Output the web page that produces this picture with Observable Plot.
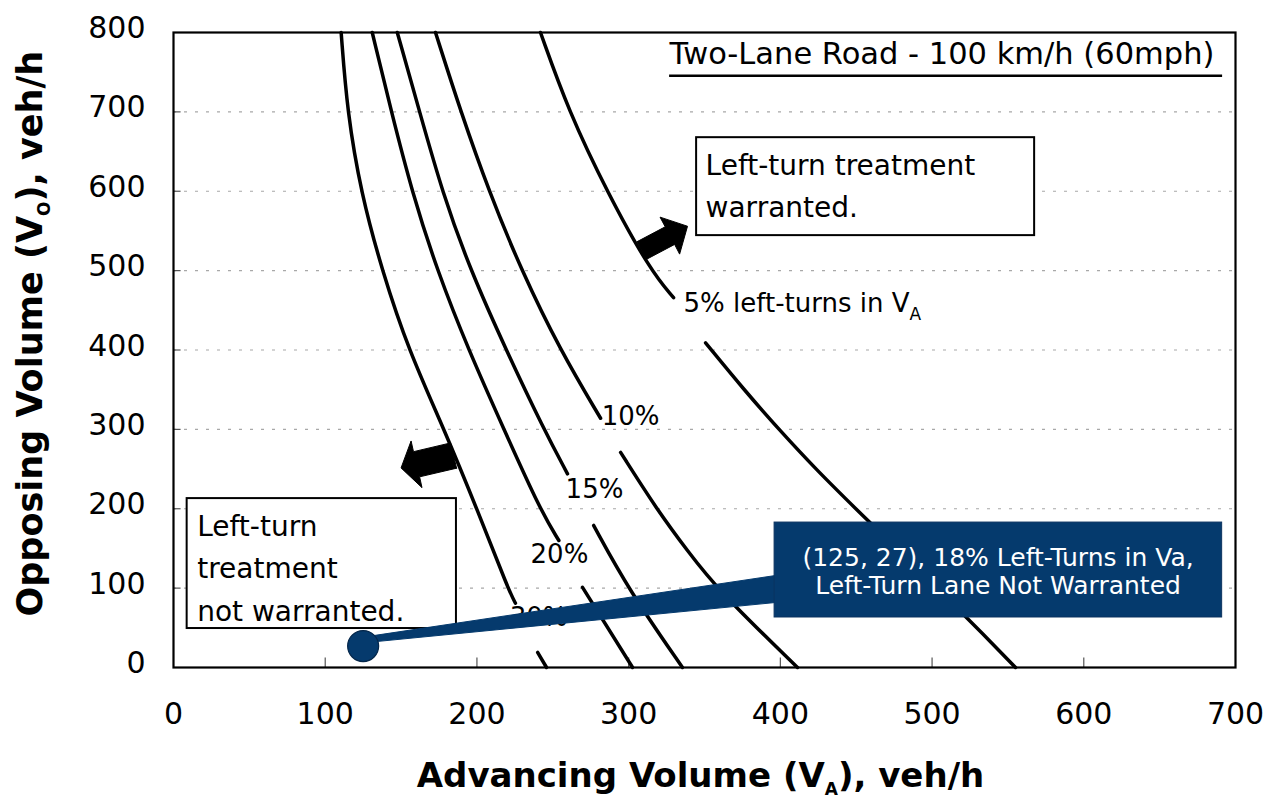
<!DOCTYPE html>
<html>
<head>
<meta charset="utf-8">
<script src="https://cdn.jsdelivr.net/npm/d3@7"></script>
<script src="https://cdn.jsdelivr.net/npm/@observablehq/plot@0.6"></script>
<style>
  body { margin: 0; background: #fff; }
  #chart { width: 1270px; height: 808px; }
</style>
</head>
<body>
<div id="chart"></div>
<script>
// ---- tick / grid values ----
const xTicks = [0, 100, 200, 300, 400, 500, 600, 700];
const yTicks = [0, 100, 200, 300, 400, 500, 600, 700, 800];
const gridLevels = [100, 200, 300, 400, 500, 600, 700];

// ---- curves (Advancing volume, Opposing volume); segments broken where labels sit ----
const curve5 = [
  [[241.9, 800], [260.4, 701], [286.1, 598], [314.4, 500], [329.6, 466]],
  [[350.7, 409], [376.0, 350], [399.0, 300], [424.3, 248], [450.7, 198], [523.2, 63], [555.0, 0]]
];
const curve10 = [
  [[172.7, 800], [189.2, 701], [208.3, 598], [229.4, 500], [255.1, 399], [281.5, 314]],
  [[294.7, 271], [319.0, 198], [338.8, 147], [358.6, 98], [411.3, 0]]
];
const curve15 = [
  [[147.5, 800], [162.1, 701], [177.3, 598], [195.8, 500], [219.5, 399], [243.9, 301], [259.7, 244]],
  [[276.9, 179], [300.0, 98], [335.5, 0]]
];
const curve20 = [
  [[131.0, 800], [143.5, 701], [157.4, 598], [173.8, 500], [194.7, 399], [217.6, 301], [241.9, 198], [254.0, 160]],
  [[269.6, 101], [302.6, 0]]
];
const curve30 = [
  [[110.5, 800], [114.5, 700], [123.7, 597], [137.5, 500], [155.1, 399], [178.2, 301], [200.4, 198], [220.8, 98], [225.4, 81]],
  [[240.0, 19], [245.9, 0]]
];
const curveNames = ["5%", "10%", "15%", "20%", "30%"];
const curveSets = [curve5, curve10, curve15, curve20, curve30];

// ---- curve labels ----
const pctLabels = ["10%", "15%", "20%", "30%"];
const pctLabelX = [301.3, 277.5, 254.4, 240.6];
const pctLabelY = [316, 224, 142, 63];
const fivePctLabel = "5% left-turns in V_A";
const fivePctPos = [336.2, 458];

// ---- annotation boxes ----
const warrantedText = "Left-turn treatment\nwarranted.";
const warrantedBox = [344.8, 567.6, 544.1, 667.5];   // x1, x2, y1, y2
const warrantedTextPos = [350.7, 658.5];
const notWarrantedText = "Left-turn\ntreatment\nnot warranted.";
const notWarrantedBox = [9.0, 186.5, 49.1, 212.8];
const notWarrantedTextPos = [15.6, 204];

// ---- title ----
const titleText = "Two-Lane Road - 100 km/h (60mph)";
const titlePos = [327, 773];
const titleUnderline = [327, 691.5, 745.6];           // x1, x2, y

// ---- block arrows (polygons) ----
const arrowRight = [[311.6, 514.1], [330.3, 533.0], [333.6, 520.8], [338.8, 555.9], [320.7, 567.4], [324.1, 555.2], [305.4, 536.3], [311.6, 514.1]];
const arrowLeft = [[186.6, 251.1], [162.2, 240.2], [163.8, 226.6], [150.0, 251.4], [156.6, 285.4], [158.2, 271.9], [182.6, 282.9], [186.6, 251.1]];

// ---- callout ----
const calloutPoint = [125, 27];
const calloutBox = [396.2, 691.2, 63, 182.6];
const calloutWedge = [[125.2, 38.3], [396.8, 115.9], [396.8, 81.9], [125.2, 31.1], [125.2, 38.3]];
const calloutText = "(125, 27), 18% Left-Turns in Va,\nLeft-Turn Lane Not Warranted";
const calloutTextPos = [543.5, 122];

// ---- axis labels ----
const xLabel = "Advancing Volume (V_A), veh/h";
const yLabel = "Opposing Volume (V_O), veh/h";
const yLabelPos = [-94.3, 420.6];

const navy = "#053a6d";

// build line table
const curveRows = [];
curveSets.forEach((segs, ci) => {
  segs.forEach((seg, si) => {
    seg.forEach(([x, y]) => curveRows.push({x, y, id: curveNames[ci] + "-" + si}));
  });
});
const pctRows = pctLabels.map((t, i) => ({text: t, x: pctLabelX[i], y: pctLabelY[i]}));
const toPts = a => a.map(([x, y]) => ({x, y}));

const chart = Plot.plot({
  width: 1270,
  height: 808,
  marginLeft: 173,
  marginRight: 35,
  marginTop: 32,
  marginBottom: 141,
  style: {fontFamily: "DejaVu Sans", fontSize: "28px", color: "black", background: "white"},
  x: {domain: [0, 700]},
  y: {domain: [0, 800]},
  marks: [
    Plot.ruleY(gridLevels, {stroke: "#a8a8a8", strokeDasharray: "3,8", strokeWidth: 1.2}),
    Plot.ruleX(xTicks.slice(1, -1), {y1: 0, y2: 12, stroke: "#555", strokeWidth: 1.2}),
    Plot.ruleY(gridLevels, {x1: 0, x2: 5, stroke: "#555", strokeWidth: 1.2}),
    Plot.frame({stroke: "black", strokeWidth: 2.2}),
    Plot.line(curveRows, {x: "x", y: "y", z: "id", stroke: "black", strokeWidth: 3.5, curve: "basis"}),
    Plot.text(pctRows, {x: "x", y: "y", text: "text", fontSize: 26}),
    Plot.text([fivePctLabel], {x: () => fivePctPos[0], y: () => fivePctPos[1], text: d => d, textAnchor: "start", fontSize: 26}),
    // boxes
    Plot.rect([warrantedBox], {x1: d => d[0], x2: d => d[1], y1: d => d[2], y2: d => d[3], fill: "white", stroke: "black", strokeWidth: 2}),
    Plot.text([warrantedText], {x: () => warrantedTextPos[0], y: () => warrantedTextPos[1], text: d => d, textAnchor: "start", lineAnchor: "top", lineHeight: 1.5, fontSize: 28}),
    Plot.rect([notWarrantedBox], {x1: d => d[0], x2: d => d[1], y1: d => d[2], y2: d => d[3], fill: "white", stroke: "black", strokeWidth: 2}),
    Plot.text([notWarrantedText], {x: () => notWarrantedTextPos[0], y: () => notWarrantedTextPos[1], text: d => d, textAnchor: "start", lineAnchor: "top", lineHeight: 1.52, fontSize: 28}),
    // title
    Plot.text([titleText], {x: () => titlePos[0], y: () => titlePos[1], text: d => d, textAnchor: "start", fontSize: 30.5}),
    Plot.ruleY([titleUnderline], {x1: d => d[0], x2: d => d[1], y: d => d[2], stroke: "black", strokeWidth: 2.5}),
    // arrows
    Plot.line(toPts(arrowRight), {x: "x", y: "y", fill: "black", stroke: "black", strokeWidth: 1}),
    Plot.line(toPts(arrowLeft), {x: "x", y: "y", fill: "black", stroke: "black", strokeWidth: 1}),
    // callout
    Plot.line(toPts(calloutWedge), {x: "x", y: "y", fill: navy, stroke: navy, strokeWidth: 1}),
    Plot.rect([calloutBox], {x1: d => d[0], x2: d => d[1], y1: d => d[2], y2: d => d[3], fill: navy, stroke: "#0b3360", strokeWidth: 1}),
    Plot.dot([calloutPoint], {x: d => d[0], y: d => d[1], r: 15.5, fill: navy, stroke: "#04264a", strokeWidth: 1.2}),
    Plot.text([calloutText], {x: () => calloutTextPos[0], y: () => calloutTextPos[1], text: d => d, fill: "white", fontSize: 25, lineHeight: 1.12}),
    // axes
    Plot.axisX({ticks: xTicks, tickSize: 0, tickPadding: 35, fontSize: 30, label: null}),
    Plot.axisY({ticks: yTicks, tickSize: 0, tickPadding: 28, fontSize: 30, dy: -4, label: null}),
    Plot.text([xLabel], {frameAnchor: "bottom", text: d => d, dx: -4, dy: 119, fontSize: 34, fontWeight: "bold"}),
    Plot.text([yLabel], {x: () => yLabelPos[0], y: () => yLabelPos[1], text: d => d, rotate: -90, fontSize: 35, fontWeight: "bold"})
  ]
});

// subscripts (V_A, V_O)
chart.querySelectorAll("text").forEach(t => {
  const els = t.querySelector("tspan") ? Array.from(t.querySelectorAll("tspan")) : [t];
  els.forEach(el => {
    const m = el.textContent.match(/^(.*)_(\w)(.*)$/);
    if (!m) return;
    const fs = parseFloat(getComputedStyle(t).fontSize) || 28;
    const shift = Math.round(fs * 0.28);
    const ns = "http://www.w3.org/2000/svg";
    el.textContent = "";
    el.appendChild(document.createTextNode(m[1]));
    const sub = document.createElementNS(ns, "tspan");
    sub.setAttribute("dy", shift);
    sub.setAttribute("font-size", Math.round(fs * 0.62));
    sub.textContent = m[2];
    el.appendChild(sub);
    if (m[3]) {
      const rest = document.createElementNS(ns, "tspan");
      rest.setAttribute("dy", -shift);
      rest.textContent = m[3];
      el.appendChild(rest);
    }
  });
});

document.getElementById("chart").appendChild(chart);
</script>
</body>
</html>
